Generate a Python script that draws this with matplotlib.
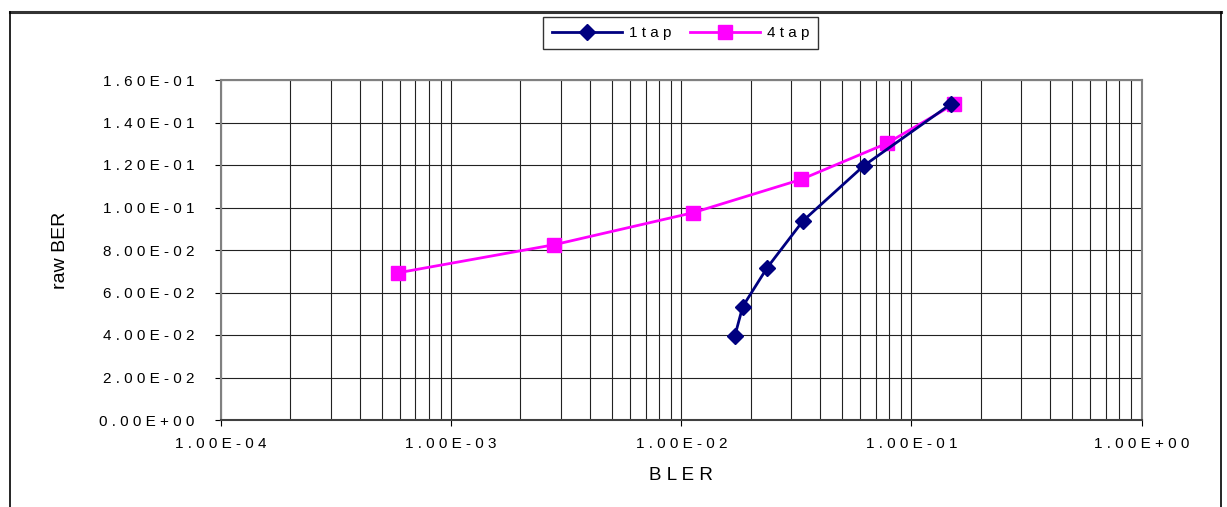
import numpy as np
import matplotlib
matplotlib.use('Agg')
import matplotlib.pyplot as plt
from matplotlib.lines import Line2D
from matplotlib.ticker import FixedLocator, LogLocator, NullFormatter

plt.rcParams['font.family'] = ['Liberation Sans', 'DejaVu Sans']

# BLER vs raw BER for the two channel models
bler_1tap = [0.0171, 0.0185, 0.0236, 0.0338, 0.0622, 0.148]
ber_1tap = [0.0396, 0.0534, 0.0716, 0.0937, 0.1197, 0.1486]
bler_4tap = [5.9e-4, 2.81e-3, 1.13e-2, 3.32e-2, 7.83e-2, 0.153]
ber_4tap = [0.0693, 0.0825, 0.0976, 0.1132, 0.1302, 0.1486]

xticks = [1e-4, 1e-3, 1e-2, 1e-1, 1e0]
yticks = np.arange(0, 0.161, 0.02)


def spaced(s):
    # excel style label with wide letter spacing
    return ' '.join(s)


def sci(v):
    m, e = ('%.2E' % v).split('E')
    return spaced('%sE%s%02d' % (m, e[0], abs(int(e))))


fig = plt.figure(figsize=(12.27, 5.07), dpi=100)
W, H = 1227., 507.
ax = fig.add_axes([221/W, 1-420/H, 920.5/W, 340/H])

ax.plot(bler_1tap, ber_1tap, color='#000080', lw=2.0, marker='D', ms=8.5,
        label=spaced('1tap'), zorder=4)
ax.plot(bler_4tap, ber_4tap, color='#FF00FF', lw=2.0, marker='s', ms=10,
        label=spaced('4tap'), zorder=3)

ax.set_xscale('log')
ax.set_xlim(1e-4, 1)
ax.set_ylim(0, 0.16)

ax.xaxis.set_major_locator(FixedLocator(xticks))
ax.xaxis.set_minor_locator(LogLocator(base=10, subs=np.arange(2, 10)))
ax.xaxis.set_minor_formatter(NullFormatter())
ax.set_xticklabels([sci(v) for v in xticks])
ax.yaxis.set_major_locator(FixedLocator(yticks))
ax.set_yticklabels([sci(v) for v in yticks])

ax.grid(True, which='both', axis='x', color='#222222', lw=0.8)
ax.grid(True, which='major', axis='y', color='#222222', lw=0.8)
ax.set_axisbelow(True)

for s in ['left', 'top', 'right']:
    ax.spines[s].set_color('#808080')
    ax.spines[s].set_linewidth(1.5)
ax.spines['bottom'].set_color('#404040')
ax.spines['bottom'].set_linewidth(1.5)

ax.tick_params(axis='x', which='major', length=4, pad=8, labelsize=11,
               direction='out')
ax.tick_params(axis='x', which='minor', length=0)
ax.tick_params(axis='y', length=4, pad=15, labelsize=11, direction='out')

ax.set_xlabel(spaced('BLER'), fontsize=13.5, labelpad=12)
ax.set_ylabel('raw BER', fontsize=14, labelpad=22)

leg = fig.legend(loc='center', bbox_to_anchor=(680.5/W, 1-33/H), ncol=2,
                 fontsize=11, frameon=True, fancybox=False,
                 edgecolor='black', handlelength=4.6, columnspacing=1.2,
                 borderpad=0.6, handletextpad=0.45, borderaxespad=0)
leg.get_frame().set_linewidth(1.0)

# chart area border
fig.add_artist(Line2D([9.5/W, 1221/W], [1-12/H, 1-12/H], color='#333333',
                      lw=2.2, transform=fig.transFigure))
for xp in (9.5, 1221):
    fig.add_artist(Line2D([xp/W, xp/W], [0, 1-12/H], color='black', lw=1.2,
                          transform=fig.transFigure))

fig.savefig('out.png', dpi=100)
